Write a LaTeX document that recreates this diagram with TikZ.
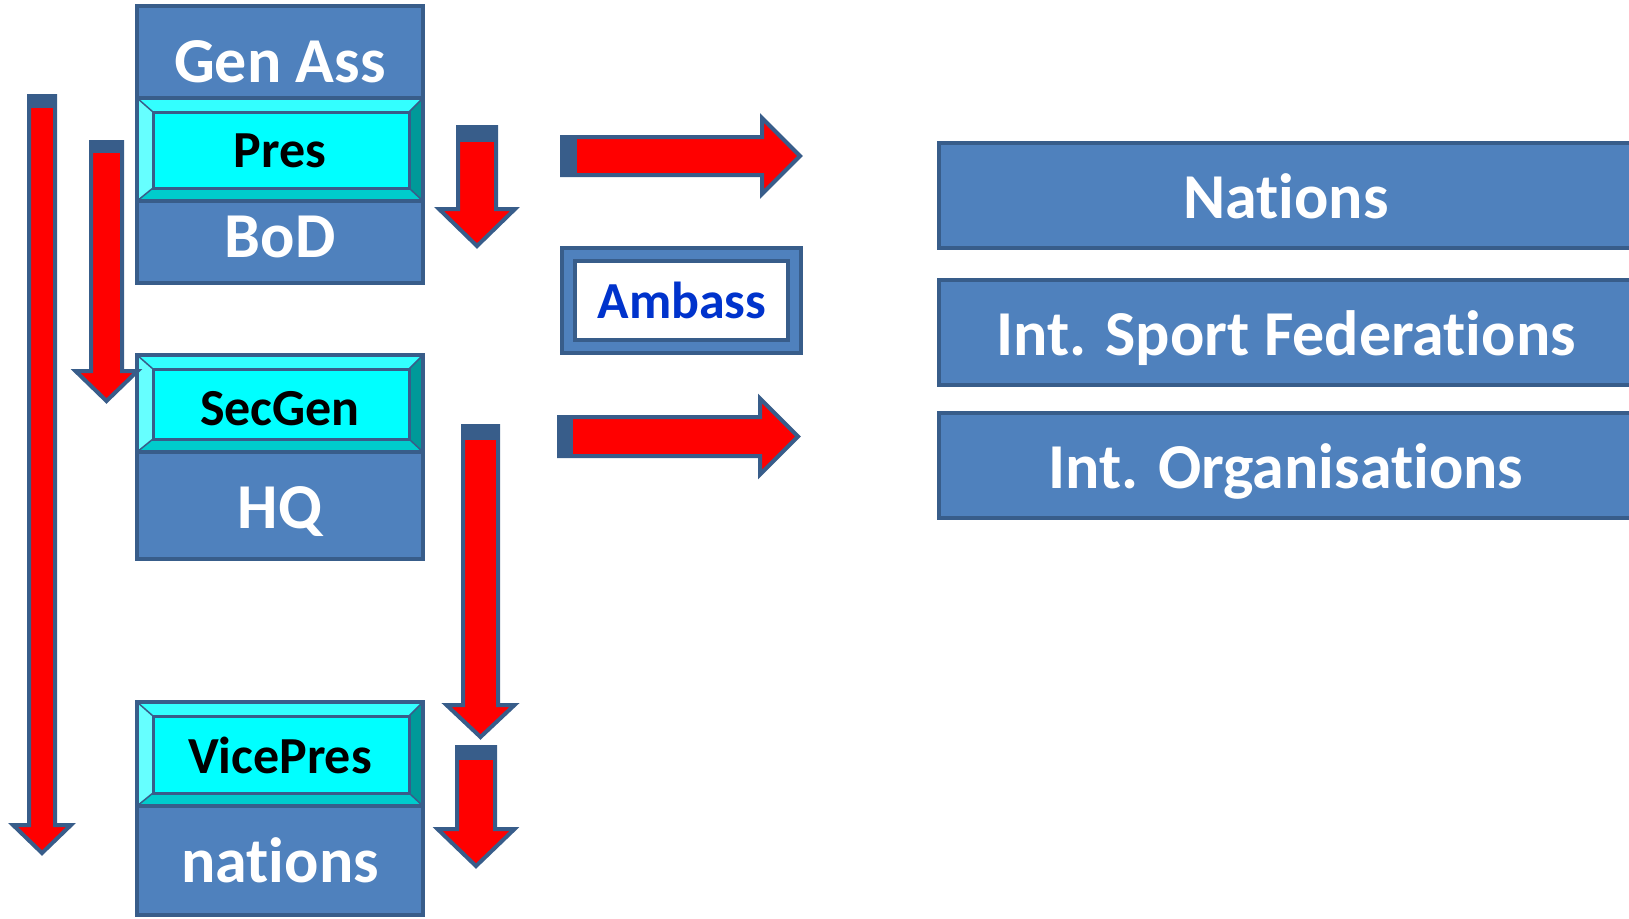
\documentclass[tikz,border=0pt]{standalone}
\usepackage{fontspec}
\setmainfont{Carlito}[RawFeature={-liga;-clig;-calt;-dlig}]
\newcommand\tinolig{t\kern0pt i}
\definecolor{boxblue}{RGB}{79,129,189}
\definecolor{edgeblue}{RGB}{56,93,138}
\definecolor{cyanmain}{RGB}{0,255,255}
\definecolor{cyantop}{RGB}{51,255,255}
\definecolor{cyanleft}{RGB}{102,255,255}
\definecolor{cyanbot}{RGB}{0,204,204}
\definecolor{cyanright}{RGB}{0,153,153}
\definecolor{ambblue}{RGB}{0,51,204}
\tikzset{
  bluebox/.style={fill=boxblue, draw=edgeblue, line width=4pt},
  whitetext/.style={text=white, font=\bfseries\fontsize{64}{70}\selectfont, anchor=base, inner sep=0pt},
  cyantext/.style={text=black, font=\bfseries\fontsize{52}{58}\selectfont, anchor=base, inner sep=0pt},
  redarrow/.style={fill=red, draw=edgeblue, line width=4pt},
}
% bevel: x1 y1 x2 y2
\newcommand\bevelpanel[4]{%
  \fill[cyantop] (#1,#2) -- (#3,#2) -- (#3-14,#2+14) -- (#1+16,#2+14) -- cycle;
  \fill[cyanleft] (#1,#2) -- (#1+16,#2+14) -- (#1+16,#4-13) -- (#1,#4) -- cycle;
  \fill[cyanbot] (#1,#4) -- (#1+16,#4-13) -- (#3-14,#4-13) -- (#3,#4) -- cycle;
  \fill[cyanright] (#3,#2) -- (#3,#4) -- (#3-14,#4-13) -- (#3-14,#2+14) -- cycle;
  \draw[edgeblue, line width=1.5pt] (#1,#2) -- (#1+16,#2+14) (#3,#2) -- (#3-14,#2+14)
     (#1,#4) -- (#1+16,#4-13) (#3,#4) -- (#3-14,#4-13);
  \draw[fill=cyanmain, draw=edgeblue, line width=3pt] (#1+16,#2+14) rectangle (#3-14,#4-13);
  \draw[edgeblue, line width=4pt] (#1,#2) rectangle (#3,#4);
}
% down arrow: cx w top capbottom heady h tipy
\newcommand\downarr[7]{%
  \draw[redarrow] (#1-#2,#3) -- (#1+#2,#3) -- (#1+#2,#5) -- (#1+#6,#5) -- (#1,#7)
     -- (#1-#6,#5) -- (#1-#2,#5) -- cycle;
  \fill[edgeblue] (#1-#2-2,#3-2) rectangle (#1+#2+2,#4);
}
% right arrow: cy w tail capend headx h tipx
\newcommand\rightarr[7]{%
  \draw[redarrow] (#3,#1-#2) -- (#5,#1-#2) -- (#5,#1-#6) -- (#7,#1) -- (#5,#1+#6)
     -- (#5,#1+#2) -- (#3,#1+#2) -- cycle;
  \fill[edgeblue] (#3-2,#1-#2-2) rectangle (#4,#1+#2+2);
}
\begin{document}
\begin{tikzpicture}[x=1pt,y=-1pt]
\useasboundingbox (0,0) rectangle (1629,918);
\clip (0,0) rectangle (1629,918);

% left column boxes
\draw[bluebox] (137,6) rectangle (423,283);
\bevelpanel{137}{98}{423}{201}
\node[whitetext] (genass) at (280,82) {Gen Ass};
\node[cyantext] (pres) at (280,167) {Pres};
\node[whitetext] (bod) at (280,257) {BoD};

\draw[bluebox] (137,355) rectangle (423,559);
\bevelpanel{137}{355}{423}{452}
\node[cyantext] (secgen) at (280,425) {SecGen};
\node[whitetext] (hq) at (280,528) {HQ};

\draw[bluebox] (137,702) rectangle (423,915);
\bevelpanel{137}{702}{423}{806}
\node[cyantext] (vicepres) at (280,773) {VicePres};
\node[whitetext] (nationsl) at (280,882) {na\tinolig ons};

% Ambass
\draw[bluebox] (562,248) rectangle (801,353);
\draw[fill=white, draw=edgeblue, line width=4pt] (575,261) rectangle (788,340);
\node[text=ambblue, font=\bfseries\fontsize{52}{58}\selectfont, anchor=base, inner sep=0pt] (ambass) at (682,318) {Ambass};

% right boxes
\draw[bluebox] (939,143) rectangle (1700,248);
\node[whitetext] (nations) at (1286,218) {Na\tinolig ons};
\draw[bluebox] (939,280) rectangle (1700,385);
\node[whitetext] (isf) at (1286,355) {Int. Sport Federa\tinolig ons};
\draw[bluebox] (939,413) rectangle (1700,518);
\node[whitetext] (io) at (1286,488) {Int. Organisa\tinolig ons};

% arrows
\downarr{42}{13}{96}{108}{825}{29}{853}
\downarr{106.5}{15.5}{142}{153}{371}{31}{401}
\downarr{477}{19}{127}{142}{209}{38}{246}
\downarr{480.5}{17.5}{426}{440}{705}{34}{737}
\downarr{476}{19}{747}{760}{829}{38.5}{866}
\rightarr{156}{19}{562}{577}{762}{38}{800}
\rightarr{436.5}{19.5}{559}{573}{760}{38}{798}
\end{tikzpicture}
\end{document}
